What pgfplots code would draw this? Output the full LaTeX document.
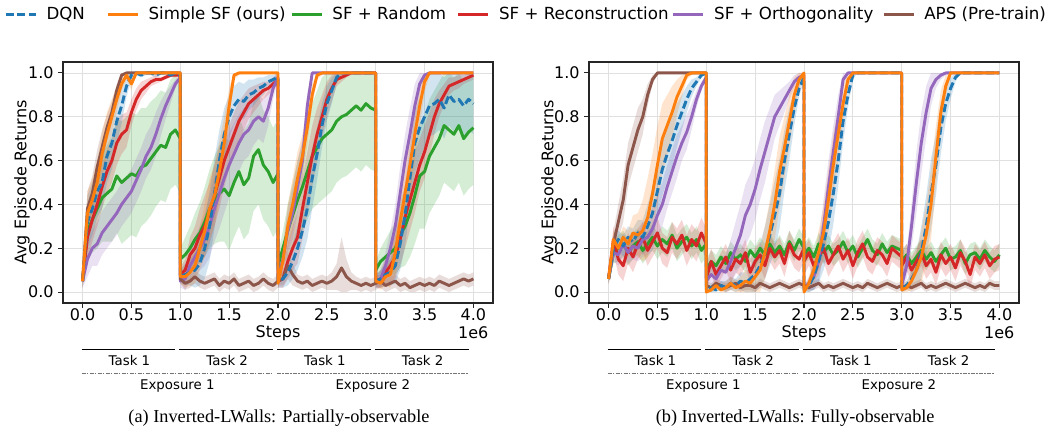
\documentclass[border=0pt]{standalone}
\usepackage{pgfplots}
\pgfplotsset{compat=1.18}
\usepackage{pgfplotstable}
\usepackage{fontspec}
\setmainfont{DejaVu Sans}
\newfontfamily\capfont{Liberation Serif}

\definecolor{tblue}{HTML}{1F77B4}
\definecolor{torange}{HTML}{FF7F0E}
\definecolor{tgreen}{HTML}{2CA02C}
\definecolor{tred}{HTML}{D62728}
\definecolor{tpurple}{HTML}{9467BD}
\definecolor{tbrown}{HTML}{8C564B}

% columns: x, DQN, SimpleSF, Random, Reconstruction, Orthogonality, APS (percent), then band half-widths
\pgfplotstableread{
x d s g r o a dw sw gw rw ow aw
0.00 5 5 5 5 5 5 3 3 3 3 3 3
0.05 32 36 28 25 15 38 12 10 12 10 8 8
0.10 38 42 33 33 20 45 12 10 15 10 8 8
0.15 46 50 38 40 22 57 12 10 18 10 10 8
0.20 50 63 43 48 27 66 12 10 20 10 10 8
0.25 62 72 45 55 30 75 12 10 22 10 10 6
0.30 68 80 47 60 33 82 12 8 24 10 10 5
0.35 78 88 53 68 36 92 10 6 26 10 10 3
0.40 85 95 50 72 40 99 8 3 28 9 10 1
0.45 94 99 52 74 43 100 5 2 28 8 10 0
0.50 99 95 54 82 46 100 2 3 28 6 10 0
0.55 100 100 53 88 51 100 1 1 28 5 10 0
0.60 99 100 57 92 56 100 1 0 27 4 10 0
0.65 100 100 58 94 62 100 1 0 26 3 10 0
0.70 100 100 61 96 66 100 1 0 26 2 10 0
0.75 99 100 64 97 72 100 1 0 25 2 10 0
0.80 100 100 67 97 79 100 1 0 25 1 8 0
0.85 100 100 66 98 85 100 1 0 25 1 6 0
0.90 99 100 72 99 90 100 1 0 25 1 4 0
0.95 100 100 74 99 95 100 1 0 25 1 2 0
1.00 99 100 70 99 98 100 1 0 25 1 1 0
1.00 7 7 15 8 5 6 3 3 5 3 3 2
1.05 8 7 17 10 6 4 5 5 8 5 5 3
1.10 9 9 20 17 12 5 6 6 10 8 7 3
1.15 10 12 24 20 16 7 8 8 12 10 9 3
1.20 13 20 27 26 20 5 10 10 14 12 10 3
1.25 20 28 32 30 24 4 14 12 16 14 12 3
1.30 30 38 38 36 30 5 16 14 18 14 14 3
1.35 45 44 42 44 38 6 16 14 20 14 15 3
1.40 60 55 45 52 45 3 14 14 22 14 16 3
1.45 72 68 47 60 52 5 12 12 24 12 16 3
1.50 80 85 44 66 58 4 10 8 25 10 15 3
1.55 85 99 50 72 63 6 9 2 25 10 14 3
1.60 88 100 55 78 68 3 8 1 25 9 13 3
1.65 87 100 49 82 72 4 8 0 25 8 12 3
1.70 90 100 52 86 74 5 7 0 25 7 12 3
1.75 91 100 62 88 78 3 6 0 25 6 11 3
1.80 93 100 65 90 80 4 5 0 25 5 10 3
1.85 94 100 58 92 78 6 4 0 25 4 10 3
1.90 96 100 55 93 84 4 3 0 25 3 8 3
1.95 97 100 50 95 93 3 2 0 25 3 5 3
2.00 98 100 54 97 98 5 2 0 25 2 2 3
2.00 5 4 12 5 5 5 3 2 5 3 3 2
2.05 6 14 20 6 15 6 4 6 8 4 6 3
2.10 9 30 28 14 28 12 6 10 12 8 10 6
2.15 14 40 35 20 36 8 8 12 15 10 12 5
2.20 20 52 42 25 48 5 10 12 18 12 12 3
2.25 28 62 48 38 60 4 12 10 20 14 10 3
2.30 38 75 55 50 85 5 14 8 22 14 6 3
2.35 52 90 62 62 100 3 14 5 24 14 1 3
2.40 63 99 66 72 100 4 12 2 26 12 0 3
2.45 76 100 70 80 100 5 10 1 28 10 0 3
2.50 86 100 72 88 100 4 8 0 28 8 0 3
2.55 92 100 74 93 100 5 6 0 28 6 0 4
2.60 98 100 78 97 100 7 3 0 28 3 0 6
2.65 100 100 80 98 100 11 1 0 28 2 0 14
2.70 100 100 81 99 100 7 0 0 28 1 0 8
2.75 100 100 83 100 100 5 0 0 28 0 0 4
2.80 100 100 85 100 100 4 0 0 28 0 0 3
2.85 100 100 83 100 100 3 0 0 28 0 0 3
2.90 100 100 86 100 100 4 0 0 28 0 0 3
2.95 100 100 84 100 100 3 0 0 28 0 0 3
3.00 100 100 83 100 100 4 0 0 28 0 0 3
3.00 5 5 10 5 4 4 3 2 4 3 2 3
3.05 6 4 14 6 6 5 4 3 6 4 4 3
3.10 8 7 16 9 12 3 5 4 8 6 6 3
3.15 9 8 18 12 20 4 6 6 10 8 8 3
3.20 12 18 20 16 30 5 8 10 12 10 10 3
3.25 22 32 26 24 45 3 12 12 15 12 12 3
3.30 35 45 30 34 60 4 14 14 18 14 12 3
3.35 52 58 36 42 72 2 14 14 20 14 12 3
3.40 68 72 44 50 85 3 14 12 22 14 10 3
3.45 75 85 53 58 95 4 14 10 24 12 6 3
3.50 80 96 55 64 99 3 14 5 26 12 2 3
3.55 85 100 62 72 100 4 14 1 26 10 1 3
3.60 86 100 66 80 100 3 14 0 26 8 0 3
3.65 88 100 70 86 100 5 14 0 26 6 0 3
3.70 84 100 76 90 100 4 14 0 26 5 0 3
3.75 90 100 74 94 100 3 14 0 26 4 0 3
3.80 87 100 72 95 100 4 14 0 26 3 0 3
3.85 88 100 76 96 100 5 14 0 26 3 0 3
3.90 85 100 70 97 100 6 14 0 26 2 0 3
3.95 88 100 73 98 100 5 14 0 26 2 0 3
4.00 86 100 75 99 100 6 14 0 26 2 0 3
}\Ltab

\pgfplotstableread{
x d s g r o a dw sw gw rw ow aw
0.00 6 6 6 6 6 6 2 2 2 3 2 2
0.05 20 24 18 24 18 22 4 4 5 6 4 6
0.10 24 20 20 15 17 32 4 4 6 7 5 8
0.15 21 25 22 12 22 42 5 5 6 7 5 10
0.20 25 22 18 20 18 58 5 6 6 7 5 10
0.25 23 27 21 16 21 66 6 8 6 7 6 10
0.30 27 26 23 22 20 74 6 10 6 7 6 10
0.35 25 28 19 25 24 80 8 14 6 7 8 8
0.40 30 34 22 19 25 90 10 18 6 7 8 5
0.45 36 45 25 23 29 97 12 18 6 7 10 2
0.50 46 58 21 27 35 100 12 18 6 7 10 1
0.55 56 70 24 20 40 100 12 16 6 7 10 0
0.60 63 76 22 18 48 100 12 14 6 7 10 0
0.65 69 82 26 25 55 100 12 12 6 7 10 0
0.70 76 89 20 22 62 100 10 8 6 7 10 0
0.75 82 94 23 26 68 100 8 5 6 7 8 0
0.80 88 99 25 19 73 100 6 2 6 7 8 0
0.85 93 100 21 24 80 100 4 1 6 7 6 0
0.90 96 100 24 21 88 100 2 0 6 7 4 0
0.95 99 100 19 27 94 100 1 0 6 7 2 0
1.00 100 100 22 22 98 100 0 0 6 7 1 0
1.00 1 0 10 6 5 3 1 1 5 6 2 2
1.05 2 1 14 14 8 2 2 2 5 6 4 2
1.10 1 3 12 8 6 4 2 2 5 6 5 2
1.15 3 1 16 12 10 3 2 2 5 6 6 2
1.20 2 2 13 16 9 2 3 3 5 6 8 2
1.25 4 4 18 10 14 3 3 3 5 6 10 2
1.30 3 2 15 15 20 4 3 3 5 6 12 2
1.35 5 3 17 13 26 2 4 4 5 6 14 2
1.40 4 5 14 18 35 3 5 5 5 6 14 2
1.45 6 4 19 9 40 3 6 6 5 6 14 2
1.50 8 7 16 14 47 2 8 8 5 6 14 2
1.55 12 10 20 17 56 4 10 10 5 6 14 2
1.60 18 18 17 12 64 3 12 12 5 6 14 2
1.65 26 28 22 20 72 2 14 14 5 6 12 2
1.70 35 40 18 16 80 3 16 16 5 6 10 2
1.75 45 55 21 19 84 4 16 16 5 6 8 2
1.80 60 66 17 13 88 3 14 14 5 6 6 2
1.85 72 78 23 22 92 2 12 12 5 6 4 2
1.90 84 90 19 17 96 3 8 8 5 6 3 2
1.95 93 97 24 15 98 4 4 4 5 6 2 2
2.00 98 100 20 20 99 3 1 1 5 6 1 2
2.00 1 0 17 14 2 3 1 1 5 6 1 2
2.05 3 4 20 18 4 2 3 3 5 6 3 2
2.10 7 10 16 12 7 3 6 6 5 6 6 2
2.15 14 18 22 16 14 4 10 10 5 6 10 2
2.20 22 27 18 20 30 2 12 12 5 6 12 2
2.25 32 42 21 13 48 3 14 14 5 6 12 2
2.30 45 58 17 17 64 2 14 14 5 6 12 2
2.35 60 72 19 21 80 3 12 12 5 6 10 2
2.40 78 86 23 15 97 4 10 8 5 6 3 2
2.45 90 97 18 19 100 3 6 3 5 6 1 2
2.50 99 100 21 12 100 2 2 1 5 6 0 2
2.55 100 100 16 18 100 3 0 0 5 6 0 2
2.60 100 100 20 22 100 2 0 0 5 6 0 2
2.65 100 100 24 16 100 4 0 0 5 6 0 2
2.70 100 100 19 14 100 3 0 0 5 6 0 2
2.75 100 100 17 19 100 2 0 0 5 6 0 2
2.80 100 100 22 17 100 3 0 0 5 6 0 2
2.85 100 100 18 13 100 4 0 0 5 6 0 2
2.90 100 100 21 20 100 3 0 0 5 6 0 2
2.95 100 100 20 18 100 2 0 0 5 6 0 2
3.00 100 100 19 16 100 3 0 0 5 6 0 2
3.00 1 1 14 12 3 2 1 1 5 6 2 2
3.05 3 2 17 16 12 3 2 2 5 6 6 2
3.10 6 5 13 10 30 2 4 4 5 6 10 2
3.15 10 10 16 14 50 3 8 8 5 6 14 2
3.20 18 16 19 18 68 4 12 12 5 6 14 2
3.25 30 26 15 12 82 2 14 14 5 6 12 2
3.30 45 40 18 15 93 3 16 16 5 6 8 2
3.35 58 62 14 9 97 2 14 14 5 6 4 2
3.40 75 82 17 17 99 3 12 10 5 6 2 2
3.45 86 94 20 13 100 4 8 5 5 6 1 2
3.50 93 100 15 16 100 3 5 1 5 6 0 2
3.55 98 100 16 11 100 2 2 0 5 6 0 2
3.60 100 100 19 18 100 3 0 0 5 6 0 2
3.65 100 100 13 14 100 4 0 0 5 6 0 2
3.70 100 100 17 8 100 3 0 0 5 6 0 2
3.75 100 100 18 16 100 2 0 0 5 6 0 2
3.80 100 100 15 13 100 3 0 0 5 6 0 2
3.85 100 100 19 17 100 2 0 0 5 6 0 2
3.90 100 100 16 12 100 4 0 0 5 6 0 2
3.95 100 100 14 15 100 3 0 0 5 6 0 2
4.00 100 100 17 16 100 3 0 0 5 6 0 2
}\Rtab

% band = area between (value-width) and (value+width), clipped to [0,1]
\newcommand{\band}[3]{%
  \addplot[draw=none, stack plots=y, forget plot] table[x=x, y expr={max(0,(\thisrow{#2}-\thisrow{#2w})/100)}] {#1};
  \addplot[fill=#3, fill opacity=0.2, draw=none, stack plots=y, forget plot] table[x=x, y expr={min(1,(\thisrow{#2}+\thisrow{#2w})/100)-max(0,(\thisrow{#2}-\thisrow{#2w})/100)}] {#1} \closedcycle;
  \addplot[draw=none, stack plots=y, forget plot] table[x=x, y expr={-min(1,(\thisrow{#2}+\thisrow{#2w})/100)}] {#1};
}
\newcommand{\bands}[1]{%
  \band{#1}{g}{tgreen}
  \band{#1}{r}{tred}
  \band{#1}{o}{tpurple}
  \band{#1}{a}{tbrown}
  \band{#1}{d}{tblue}
  \band{#1}{s}{torange}
}
\newcommand{\curves}[1]{%
  \addplot[tgreen, ln, forget plot] table[x=x, y expr=\thisrow{g}/100] {#1};
  \addplot[tred, ln, forget plot] table[x=x, y expr=\thisrow{r}/100] {#1};
  \addplot[tpurple, ln, forget plot] table[x=x, y expr=\thisrow{o}/100] {#1};
  \addplot[tbrown, ln, forget plot] table[x=x, y expr=\thisrow{a}/100] {#1};
  \addplot[tblue, ln, dash pattern=on 6pt off 2.6pt, forget plot] table[x=x, y expr=\thisrow{d}/100] {#1};
  \addplot[torange, ln, forget plot] table[x=x, y expr=\thisrow{s}/100] {#1};
}
\newcommand{\annot}{%
  \draw[black, line width=0.75pt] (axis cs:-0.01,-0.2635) -- (axis cs:0.95,-0.2635);
  \draw[black, line width=0.75pt] (axis cs:0.99,-0.2635) -- (axis cs:1.95,-0.2635);
  \draw[black, line width=0.75pt] (axis cs:1.99,-0.2635) -- (axis cs:2.95,-0.2635);
  \draw[black, line width=0.75pt] (axis cs:2.99,-0.2635) -- (axis cs:3.95,-0.2635);
  \node[font=\fontsize{10}{12}\selectfont] at (axis cs:0.48,-0.3137) {Task 1};
  \node[font=\fontsize{10}{12}\selectfont] at (axis cs:1.48,-0.3137) {Task 2};
  \node[font=\fontsize{10}{12}\selectfont] at (axis cs:2.48,-0.3137) {Task 1};
  \node[font=\fontsize{10}{12}\selectfont] at (axis cs:3.48,-0.3137) {Task 2};
  \draw[black!55, line width=0.7pt, dash pattern=on 3pt off 1pt on 1pt off 1pt] (axis cs:-0.01,-0.373) -- (axis cs:1.95,-0.373);
  \draw[black!55, line width=0.7pt, dash pattern=on 3pt off 1pt on 1pt off 1pt] (axis cs:1.99,-0.373) -- (axis cs:3.95,-0.373);
  \node[font=\fontsize{10}{12}\selectfont] at (axis cs:0.97,-0.428) {Exposure 1};
  \node[font=\fontsize{10}{12}\selectfont] at (axis cs:2.97,-0.428) {Exposure 2};
  \node[font=\fontsize{12}{14}\selectfont, anchor=east] at (axis description cs:1,-0.125) {1e6};
}

\pgfplotsset{
  ln/.style={line width=2.2pt, line join=round, no markers},
  base/.style={
    scale only axis, width=322.5pt, height=180.75pt,
    xmin=-0.2, xmax=4.2, ymin=-0.05, ymax=1.05,
    xtick={0,0.5,1,1.5,2,2.5,3,3.5,4},
    xticklabels={0.0,0.5,1.0,1.5,2.0,2.5,3.0,3.5,4.0},
    ytick={0,0.2,0.4,0.6,0.8,1},
    yticklabels={0.0,0.2,0.4,0.6,0.8,1.0},
    tick label style={font=\fontsize{12}{14}\selectfont},
    xticklabel style={yshift=2.5pt},
    label style={font=\fontsize{12}{14}\selectfont},
    grid=major, major grid style={black!12, line width=0.6pt},
    axis line style={black!85, line width=0.8pt},
    tick align=outside, major tick length=3.5pt,
    tick style={black!85, line width=0.8pt},
    xtick pos=lower, ytick pos=left,
    xlabel={Steps}, ylabel={Avg Episode Returns},
    xlabel style={at={(axis description cs:0.5,-0.125)}, anchor=center},
    clip mode=individual,
  }
}

\begin{document}
\begin{tikzpicture}
\useasboundingbox (0,0) rectangle (786pt,319.5pt);
\begin{axis}[base, at={(47.25pt,92.25pt)}, anchor=south west,
    ylabel style={at={(axis description cs:-0.0953,0.5)}, anchor=center},
    legend columns=6,
    legend image code/.code={\draw[#1] (0pt,0pt) -- (22.5pt,0pt);},
    legend style={at={(-0.1372,1.199)}, anchor=west, draw=none, fill=none,
      inner sep=0pt, font=\fontsize{12.5}{15}\selectfont, nodes={inner sep=0pt},
      /tikz/every odd column/.append style={column sep=7pt},
      /tikz/column 2/.style={column sep=16pt},
      /tikz/column 4/.style={column sep=3.5pt},
      /tikz/column 6/.style={column sep=8pt},
      /tikz/column 8/.style={column sep=2.5pt},
      /tikz/column 10/.style={column sep=6.5pt}},
  ]
  \addlegendimage{tblue, line width=2.2pt, dash pattern=on 6pt off 2.6pt}
  \addlegendentry{DQN}
  \addlegendimage{torange, line width=2.2pt}
  \addlegendentry{Simple SF (ours)}
  \addlegendimage{tgreen, line width=2.2pt}
  \addlegendentry{SF + Random}
  \addlegendimage{tred, line width=2.2pt}
  \addlegendentry{SF + Reconstruction}
  \addlegendimage{tpurple, line width=2.2pt}
  \addlegendentry{SF + Orthogonality}
  \addlegendimage{tbrown, line width=2.2pt}
  \addlegendentry{APS (Pre-train)}
  \bands{\Ltab}
  \curves{\Ltab}
  \annot
  \node[font=\capfont\fontsize{13.7}{16}\selectfont] at (axis cs:2.01,-0.575) {(a) Inverted-LWalls: Partially-observable};
\end{axis}
\begin{axis}[base, at={(441.75pt,92.25pt)}, anchor=south west,
    ylabel style={at={(axis description cs:-0.093,0.5)}, anchor=center},
  ]
  \bands{\Rtab}
  \curves{\Rtab}
  \annot
  \node[font=\capfont\fontsize{13.7}{16}\selectfont] at (axis cs:1.91,-0.575) {(b) Inverted-LWalls: Fully-observable};
\end{axis}
\end{tikzpicture}
\end{document}
